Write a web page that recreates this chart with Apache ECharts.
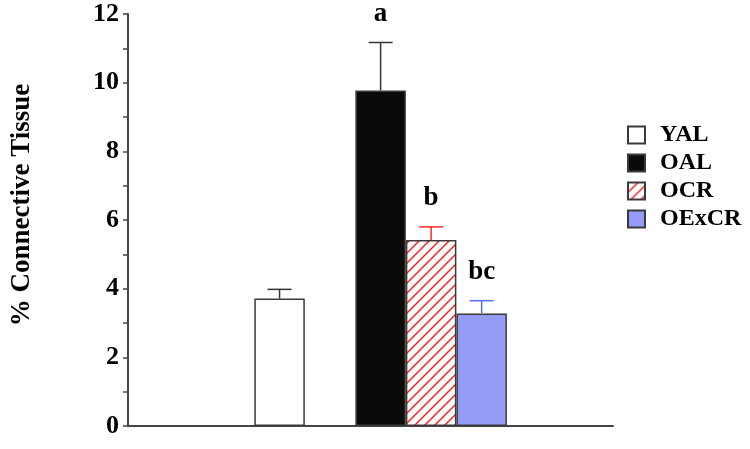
<!DOCTYPE html>
<html>
<head>
<meta charset="utf-8">
<script src="https://cdn.jsdelivr.net/npm/echarts@6/dist/echarts.min.js"></script>
<style>
html,body{margin:0;padding:0;background:#fff;}
#chart{width:750px;height:449px;}
</style>
</head>
<body>
<div id="chart"></div>
<script>
// ---- data ----
var groups = ['YAL', 'OAL', 'OCR', 'OExCR'];
var means = [3.71, 9.77, 5.42, 3.28];
var sems = [0.27, 1.40, 0.38, 0.37];
var sigLetters = ['', 'a', 'b', 'bc'];
var yTicks = [0, 2, 4, 6, 8, 10, 12];
var yTitle = '% Connective Tissue';

// ---- layout / styles ----
var slotIndex = [3, 5, 6, 7]; // slot positions along the x axis (YAL, gap, then the three O groups)
var FONT = "'Liberation Serif', 'Times New Roman', serif";
var AXIS = '#444';

function hatch() {
  var s = 10, c = document.createElement('canvas');
  c.width = s; c.height = s;
  var g = c.getContext('2d');
  g.fillStyle = '#fff'; g.fillRect(0, 0, s, s);
  g.strokeStyle = '#ff2020'; g.lineWidth = 1.5;
  g.beginPath();
  g.moveTo(0, s); g.lineTo(s, 0);
  g.moveTo(-1, 1); g.lineTo(1, -1);
  g.moveTo(s - 1, s + 1); g.lineTo(s + 1, s - 1);
  g.stroke();
  return c;
}
var fills = ['#ffffff', '#0a0a0a', {image: hatch(), repeat: 'repeat'}, '#949cf8'];
var errColors = ['#333333', '#333333', '#ff2a2a', '#5a6cf2'];

var chart = echarts.init(document.getElementById('chart'), null, {renderer: 'canvas'});

var series = groups.map(function (name, i) {
  return {
    name: name,
    type: 'bar',
    barWidth: 50.5,
    barGap: '-100%',
    data: [[slotIndex[i], means[i]]],
    itemStyle: {color: fills[i], borderColor: '#3a3a3a', borderWidth: 1.5},
    emphasis: {disabled: true},
    z: 2
  };
});

series.push({
  type: 'custom',
  name: 'err',
  silent: true,
  z: 3,
  data: groups.map(function (g, i) { return [slotIndex[i], means[i], means[i] + sems[i], i]; }),
  renderItem: function (params, api) {
    var x = api.value(0), i = api.value(3);
    var p0 = api.coord([x, api.value(1)]);
    var p1 = api.coord([x, api.value(2)]);
    var col = errColors[i];
    var half = 12;
    var children = [
      {type: 'line', shape: {x1: p0[0], y1: p0[1], x2: p1[0], y2: p1[1]}, style: {stroke: col, lineWidth: 1.5}},
      {type: 'line', shape: {x1: p1[0] - half, y1: p1[1], x2: p1[0] + half, y2: p1[1]}, style: {stroke: col, lineWidth: 1.5}}
    ];
    if (sigLetters[i]) {
      children.push({
        type: 'text',
        style: {
          text: sigLetters[i], x: p1[0], y: p1[1] - 15,
          align: 'center', verticalAlign: 'bottom',
          font: 'bold 27px ' + FONT, fill: '#000'
        }
      });
    }
    return {type: 'group', children: children};
  }
});

chart.setOption({
  animation: false,
  backgroundColor: '#fff',
  grid: {left: 128, right: 137, top: 14, bottom: 23, containLabel: false},
  xAxis: {
    type: 'value', min: 0, max: 9.6,
    axisLine: {show: true, lineStyle: {color: AXIS, width: 2}},
    axisTick: {show: false}, axisLabel: {show: false}, splitLine: {show: false}
  },
  yAxis: {
    type: 'value', min: yTicks[0], max: yTicks[yTicks.length - 1], interval: yTicks[1] - yTicks[0],
    name: yTitle, nameLocation: 'middle', nameRotate: 90, nameGap: 92,
    nameTextStyle: {fontFamily: FONT, fontWeight: 'bold', fontSize: 27, color: '#000', padding: [0, 0, 0, 30]},
    axisLine: {show: true, lineStyle: {color: AXIS, width: 2}},
    axisTick: {show: true, length: 5, lineStyle: {color: AXIS, width: 1.5}},
    minorTick: {show: true, splitNumber: 2, length: 5, lineStyle: {color: AXIS, width: 1.5}},
    axisLabel: {fontFamily: FONT, fontWeight: 'bold', fontSize: 26, color: '#000', margin: 9},
    splitLine: {show: false}
  },
  legend: {
    data: groups,
    orient: 'vertical',
    left: 622, top: 118,
    itemWidth: 17, itemHeight: 17, itemGap: 4,
    icon: 'rect',
    selectedMode: false,
    textStyle: {fontFamily: FONT, fontWeight: 'bold', fontSize: 24, color: '#000', padding: [0, 0, 0, 10]}
  },
  series: series
});
</script>
</body>
</html>
